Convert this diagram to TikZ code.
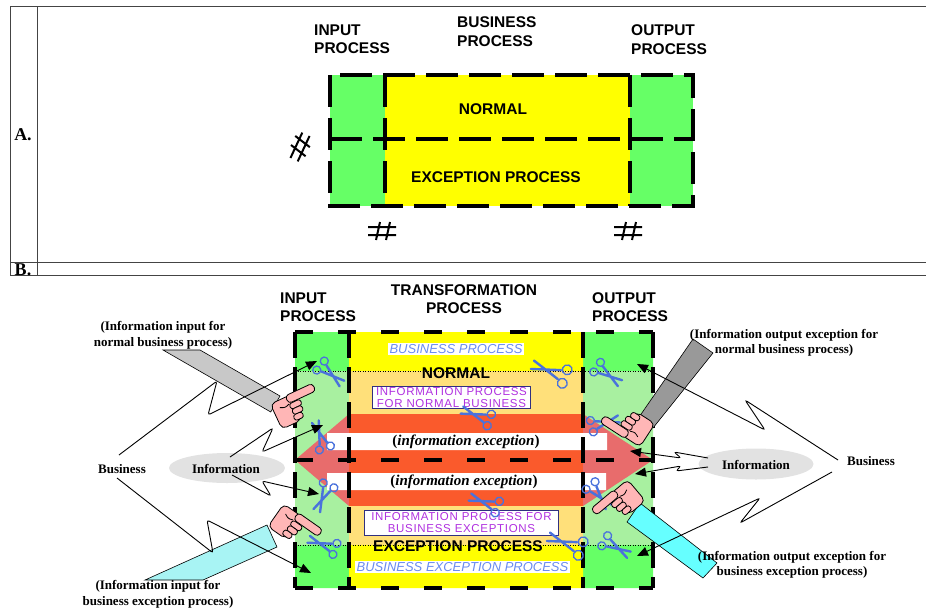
\documentclass[tikz,border=0pt]{standalone}
\usepackage{fontspec}
\setmainfont{Liberation Serif}
\newfontfamily\arialf{Liberation Sans}
\newfontfamily\trackedf[LetterSpace=6]{Liberation Sans}
\usetikzlibrary{arrows.meta,shapes.geometric}

\definecolor{brightgreen}{HTML}{66FF66}
\definecolor{palegreen}{HTML}{A8F0A0}
\definecolor{procyellow}{HTML}{FFFF00}
\definecolor{paleyellow}{HTML}{FFE07A}
\definecolor{excred}{HTML}{FA5A2C}
\definecolor{excpink}{HTML}{E86C6C}
\definecolor{scissorblue}{HTML}{4A72DC}
\definecolor{italicblue}{HTML}{6A8CF0}
\definecolor{infopurple}{HTML}{B030E0}
\definecolor{boxnavy}{HTML}{303080}
\definecolor{skin}{HTML}{FFB6B6}
\definecolor{sleevegrey}{HTML}{C8C8C8}
\definecolor{sleevedark}{HTML}{999999}
\definecolor{sleevecyan}{HTML}{A8F4F4}
\definecolor{sleeveaqua}{HTML}{66FFFF}
\definecolor{cloudgrey}{HTML}{E2E2E2}
\definecolor{rulegrey}{HTML}{444444}

\tikzset{
  rule/.style={draw=rulegrey, line width=1pt},
  dashA/.style={draw=black, line width=3.2pt, dash pattern=on 32pt off 11pt},
  dashBh/.style={draw=black, line width=3.2pt, dash pattern=on 18pt off 25pt},
  dashBv/.style={draw=black, line width=3.2pt, dash pattern=on 26pt off 9pt},
  dotline/.style={draw=black, line width=0.8pt, dash pattern=on 1pt off 1.5pt},
  heading/.style={font=\arialf\bfseries\fontsize{15.5}{18}\selectfont, inner sep=0pt},
  rowlabel/.style={font=\bfseries\fontsize{18}{20}\selectfont, inner sep=0pt},
  serifnote/.style={font=\bfseries\fontsize{13}{15}\selectfont, inner sep=0pt},
  bizitalic/.style={font=\arialf\itshape\fontsize{13}{15}\selectfont, text=italicblue, fill=white, inner sep=1.2pt},
  infobox/.style={font=\trackedf\fontsize{11.5}{11.5}\selectfont, text=infopurple, fill=white, draw=boxnavy, line width=0.8pt, align=center, inner sep=0pt},
  bandtext/.style={font=\bfseries\fontsize{15}{17}\selectfont, inner sep=0pt},
  cloud/.style={ellipse, fill=cloudgrey},
  link/.style={draw=black, line width=0.9pt, rounded corners=2.5pt, -{Triangle[length=11pt,width=9pt]}},
  sleeve/.style={draw=black, line width=0.6pt},
  hashmark/.pic={
    \draw[line width=2pt] (-14,-4) -- (14,-4) (-14,4) -- (14,4)
                          (-2,-9) -- (-6,9) (8,-9) -- (4,9);
  },
  scissors/.pic={
    \draw[scissorblue, line width=2.4pt, line cap=round] (-3,-3) -- (15,2.8) (-3,3) -- (15,-2.8);
    \draw[scissorblue, line width=1.3pt] (-6.5,-4.5) circle (3.1) (-6.5,4.5) circle (3.1);
  },
  hand/.pic={
    \draw[fill=skin, line width=0.8pt, rounded corners=5pt] (-12,-11) rectangle (6,12);
    \draw[fill=skin, line width=0.8pt, rounded corners=3.5pt] (2,-12) rectangle (27,-5);
    \draw[fill=skin, line width=0.8pt, rounded corners=2.5pt] (2,-4.5) rectangle (12,0.5);
    \draw[fill=skin, line width=0.8pt, rounded corners=2.5pt] (2,0.5) rectangle (11,5.5);
    \draw[fill=skin, line width=0.8pt, rounded corners=2.5pt] (1,5.5) rectangle (9,10.5);
    \draw[line width=0.8pt] (-6,-5) .. controls (-2,-3) .. (2,-4.5);
  },
}

\begin{document}
\begin{tikzpicture}[x=1pt,y=-1pt]
\useasboundingbox (0,0) rectangle (926,610);

% ---------- table frame ----------
\draw[rule] (10,7) -- (926,7) (10,262) -- (926,262) (10,275) -- (926,275)
            (10,7) -- (10,275) (37,7) -- (37,275);
\node[rowlabel] (rowA) at (23,135) {A.};
\begin{scope}
  \clip (10,262) rectangle (37,275);
  \node[rowlabel] (rowB) at (23,270) {B.};
\end{scope}

% ---------- part A ----------
\fill[brightgreen] (330,75) rectangle (385,206);
\fill[procyellow] (385,75) rectangle (630,206);
\fill[brightgreen] (630,75) rectangle (693,206);
\draw[dashA] (330,75) rectangle (693,206);
\draw[dashA] (330,139) -- (693,139);
\draw[dashA] (385,75) -- (385,206) (630,75) -- (630,206);

\node[heading, anchor=west] (aIn1) at (314,30) {INPUT};
\node[heading, anchor=west] (aIn2) at (314,48) {PROCESS};
\node[heading, anchor=west] (aBiz1) at (457,22) {BUSINESS};
\node[heading, anchor=west] (aBiz2) at (457,41) {PROCESS};
\node[heading, anchor=west] (aOut1) at (631,30) {OUTPUT};
\node[heading, anchor=west] (aOut2) at (631,49) {PROCESS};
\node[heading] (aNormal) at (493,109) {NORMAL};
\node[heading] (aExc) at (496,177) {EXCEPTION PROCESS};

\pic[rotate=65] at (300,147) {hashmark};
\pic at (382,231) {hashmark};
\pic at (628,231) {hashmark};

% ---------- part B: fills ----------
\fill[brightgreen] (295,332) rectangle (349,371) (583,332) rectangle (653,371)
                   (295,545) rectangle (349,588) (583,545) rectangle (653,588);
\fill[palegreen] (295,371) rectangle (349,545) (583,371) rectangle (653,545);
\fill[procyellow] (349,332) rectangle (583,371) (349,545) rectangle (583,588);
\fill[paleyellow] (349,371) rectangle (583,545);
\fill[excpink] (295,460) -- (349,414) -- (349,506) -- cycle;
\fill[excpink] (583,414) -- (653,460) -- (583,506) -- cycle;
\fill[excred] (349,414) rectangle (583,506);
\fill[white] (327,433) rectangle (607,450) (327,473) rectangle (606,490);

\draw[dotline] (295,371) -- (653,371) (295,545) -- (653,545);
\draw[dashBh] (295,332) -- (653,332) (295,588) -- (653,588) (295,460) -- (653,460);
\draw[dashBv] (295,332) -- (295,588) (349,332) -- (349,588)
              (583,332) -- (583,588) (653,332) -- (653,588);

% ---------- part B: headings and inner texts ----------
\node[heading, anchor=west] (bIn1) at (280,298) {INPUT};
\node[heading, anchor=west] (bIn2) at (280,316) {PROCESS};
\node[heading] (bTr1) at (464,290) {TRANSFORMATION};
\node[heading] (bTr2) at (464,308) {PROCESS};
\node[heading, anchor=west] (bOut1) at (592,298) {OUTPUT};
\node[heading, anchor=west] (bOut2) at (592,316) {PROCESS};

\node[bizitalic] (bizProc) at (456,349) {BUSINESS PROCESS};
\node[heading] (bNormal) at (456,373) {NORMAL};
\node[infobox, minimum width=158pt, minimum height=22pt] (infoNormal) at (451.5,397.5)
  {INFORMATION PROCESS\\FOR NORMAL BUSINESS};
\node[bandtext] (exc1) at (466,442) {(\textit{information exception})};
\node[bandtext] (exc2) at (464,482) {(\textit{information exception})};
\node[infobox, minimum width=194pt, minimum height=25pt] (infoExc) at (461.5,522.5)
  {INFORMATION PROCESS FOR\\BUSINESS EXCEPTIONS};
\node[heading] (bExc) at (458,546) {EXCEPTION PROCESS};
\node[bizitalic] (bizExc) at (462.5,567) {BUSINESS EXCEPTION PROCESS};

% ---------- scissors ----------
\pic[rotate=-40, scale=1.3] at (327,371) {scissors};
\pic[rotate=160, scale=1.6] at (555,373) {scissors};
\pic[rotate=-35, scale=1.3] at (604,372) {scissors};
\pic[rotate=160, scale=1.35] at (481,417) {scissors};
\pic[rotate=110, scale=1.3] at (322,440) {scissors};
\pic[rotate=15, scale=1.3] at (600,424) {scissors};
\pic[rotate=-115, scale=1.3] at (325,493) {scissors};
\pic[rotate=-50, scale=1.3] at (596,492) {scissors};
\pic[rotate=160, scale=1.35] at (489,504) {scissors};
\pic[rotate=160, scale=1.3] at (327,546) {scissors};
\pic[rotate=160, scale=1.6] at (571,545) {scissors};
\pic[rotate=-30, scale=1.3] at (612,545) {scissors};

% ---------- sleeves and pointing hands ----------
\draw[sleeve, fill=sleevegrey] (163,350) -- (200,350) -- (280,396) -- (270.75,412) -- cycle;
\draw[sleeve, fill=sleevecyan] (145,580) -- (267,525) -- (277,547) -- (203,580) -- cycle;
\draw[sleeve, fill=sleevedark] (693,339) -- (713,353) -- (653,428) -- (637,420) -- cycle;
\draw[sleeve, fill=sleeveaqua] (627,522) -- (640,503) -- (717,563) -- (703,578) -- cycle;
\pic[rotate=25, scale=1.2] at (289,410) {hand};
\pic[rotate=-35, scale=1.2] at (288,523) {hand};
\pic[rotate=147, scale=1.2] at (635,428) {hand};
\pic[rotate=220, xscale=1.2, yscale=-1.2] at (625,499) {hand};

% ---------- side labels ----------
\node[cloud, minimum width=116pt, minimum height=30pt] (infoCloudL) at (227,468) {};
\node[cloud, minimum width=115pt, minimum height=31pt] (infoCloudR) at (756,464) {};
\node[serifnote] (infoL) at (226,469) {Information};
\node[serifnote] (infoR) at (756,465) {Information};
\node[serifnote] (bizL) at (122,469) {Business};
\node[serifnote] (bizR) at (871,461) {Business};

\node[serifnote] (inNormal1) at (163,327) {(Information input for};
\node[serifnote] (inNormal2) at (163,343) {normal business process)};
\node[serifnote] (inExc1) at (158,586) {(Information input for};
\node[serifnote] (inExc2) at (158,602) {business exception process)};
\node[serifnote] (outNormal1) at (784,335) {(Information output exception for};
\node[serifnote] (outNormal2) at (784,350) {normal business process)};
\node[serifnote] (outExc1) at (792,557) {(Information output exception for};
\node[serifnote] (outExc2) at (792,572) {business exception process)};

% ---------- lightning connectors ----------
\coordinate (bizLup) at (119,455);
\coordinate (bizLdn) at (117,478);
\coordinate (infoLup) at (230,457);
\coordinate (infoLdn) at (232,475);
\coordinate (bizRup) at (838,460);
\coordinate (bizRdn) at (832,472);
\coordinate (infoRup) at (708,458);
\coordinate (infoRdn) at (708,467);

\coordinate (inTopTip) at (317,361);
\coordinate (inBotTip) at (311,573);
\coordinate (inExcTipA) at (323,425);
\coordinate (inExcTipB) at (319,494);
\coordinate (outTopTip) at (637,364);
\coordinate (outBotTip) at (637,556);
\coordinate (outExcTipA) at (630,451);
\coordinate (outExcTipB) at (635,474);

\draw[link] (bizLup) -- (217,381) -- (208,415) -- (inTopTip);
\draw[link] (bizLdn) -- (213,553) -- (207,520) -- (inBotTip);
\draw[link] (infoLup) -- (273,428) -- (262,452) -- (inExcTipA);
\draw[link] (infoLdn) -- (271,496) -- (262,481) -- (inExcTipB);
\draw[link] (bizRup) -- (745,400) -- (765,430) -- (outTopTip);
\draw[link] (bizRdn) -- (740,523) -- (760,498) -- (outBotTip);
\draw[link] (infoRup) -- (674,452) -- (681,458) -- (outExcTipA);
\draw[link] (infoRdn) -- (676,471) -- (681,466) -- (outExcTipB);
\end{tikzpicture}
\end{document}
